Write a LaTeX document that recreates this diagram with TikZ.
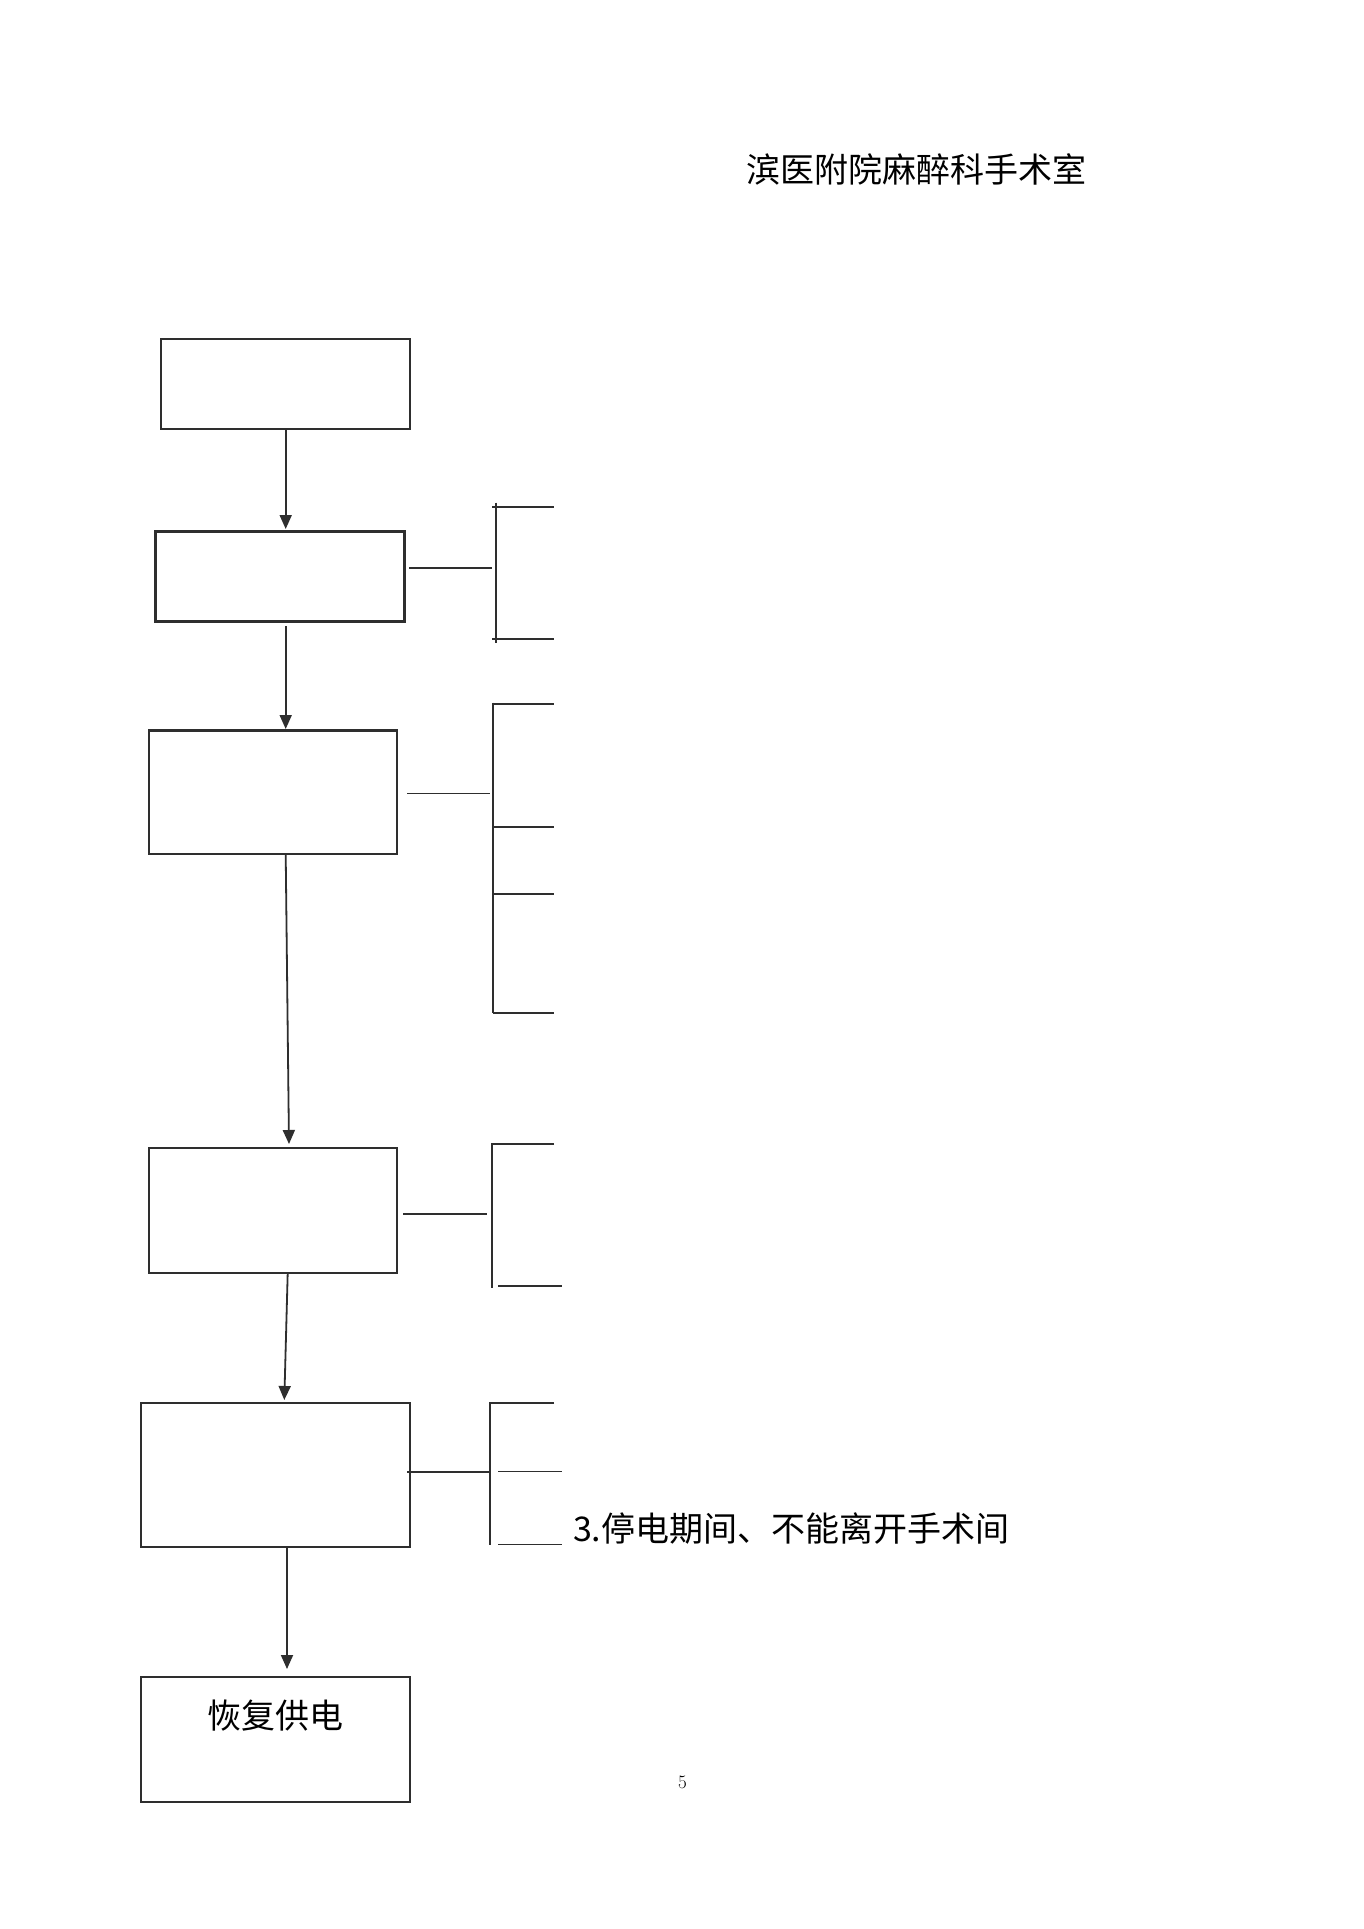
\documentclass[tikz,border=0pt]{standalone}
\usepackage{fontspec}
\newfontfamily\cjk{Noto Sans CJK SC}
\usetikzlibrary{arrows.meta}
\begin{document}
\begin{tikzpicture}[x=1pt,y=-1pt,
  ln/.style={draw=black!82,line width=1.8pt},
  flowbox/.style={ln,rectangle,inner sep=0pt,outer sep=0pt},
  flowarrow/.style={ln,-{Triangle[width=12pt,length=14pt]}},
  bigtext/.style={inner sep=0pt,outer sep=0pt,font=\cjk\fontsize{34}{40}\selectfont},
]
\useasboundingbox[fill=white] (0,0) rectangle (1363,1929);

% title
\node[bigtext,anchor=base west] (title) at (746.6,182.6) {滨医附院麻醉科手术室};

% boxes
\node[flowbox,minimum width=248.4pt,minimum height=89.7pt] (b1) at (285.5,384.2) {};
\node[flowbox,line width=3pt,minimum width=248.6pt,minimum height=90.4pt] (b2) at (280,576.5) {};
\node[flowbox,minimum width=247.7pt,minimum height=124.3pt] (b3) at (273.2,792.2) {};
\draw[ln,line width=3pt] (b3.north west) -- (b3.north east);
\node[flowbox,minimum width=247.7pt,minimum height=125.3pt] (b4) at (273.2,1210.4) {};
\node[flowbox,minimum width=269pt,minimum height=143.7pt] (b5) at (275.2,1474.9) {};
\node[flowbox,minimum width=269pt,minimum height=125pt] (b6) at (275.5,1739.5) {};
\node[bigtext,anchor=base west] (t6) at (207.3,1728.6) {恢复供电};

% arrows
\coordinate (a1s) at (285.7,429);   \coordinate (a1e) at (285.7,529);
\coordinate (a2s) at (285.7,626);   \coordinate (a2e) at (285.7,729);
\coordinate (a3s) at (285.7,854);   \coordinate (a3e) at (289,1144);
\coordinate (a4s) at (287.7,1273);  \coordinate (a4e) at (284.3,1400);
\coordinate (a5s) at (287,1546);    \coordinate (a5e) at (287,1669);
\draw[flowarrow] (a1s) -- (a1e);
\draw[flowarrow] (a2s) -- (a2e);
\draw[flowarrow] (a3s) -- (a3e);
\draw[flowarrow] (a4s) -- (a4e);
\draw[flowarrow] (a5s) -- (a5e);

% bracket 2
\coordinate (s2a) at (495.7,502.7); \coordinate (s2b) at (495.7,643.3);
\draw[ln] (409,568.3) -- (492.3,568.3);
\draw[ln] (s2a) -- (s2b);
\draw[ln] (492,507.3) -- (554,507.3);
\draw[ln] (492,639) -- (554,639);

% bracket 3
\coordinate (s3a) at (493.3,702.7); \coordinate (s3b) at (493.3,1013.3);
\draw[ln] (407,793.5) -- (490,793.5);
\draw[ln] (s3a) -- (s3b);
\draw[ln] (492.5,704.3) -- (554,704.3);
\draw[ln] (492.5,826.7) -- (554,826.7);
\draw[ln] (492.5,893.7) -- (554,893.7);
\draw[ln] (492.5,1013.3) -- (554,1013.3);

% bracket 4
\coordinate (s4a) at (491.7,1144.3); \coordinate (s4b) at (491.7,1288.3);
\draw[ln] (403,1213.7) -- (486.7,1213.7);
\draw[ln] (554,1144.3) -- (s4a) -- (s4b);
\draw[ln] (498.3,1285.7) -- (561.7,1285.7);

% bracket 5
\coordinate (s5a) at (490,1403); \coordinate (s5b) at (490,1545.3);
\draw[ln] (407,1472.3) -- (490,1472.3);
\draw[ln] (554,1403) -- (s5a) -- (s5b);
\draw[ln] (498.3,1471.5) -- (561.7,1471.5);
\draw[ln] (498.3,1544.5) -- (561.7,1544.5);
\node[bigtext,anchor=base west] (t5) at (573,1541) {3.停电期间、不能离开手术间};

% page number
\node[inner sep=0pt,anchor=base,font=\fontsize{19}{22}\selectfont] (pg) at (682.5,1788) {5};
\end{tikzpicture}
\end{document}
